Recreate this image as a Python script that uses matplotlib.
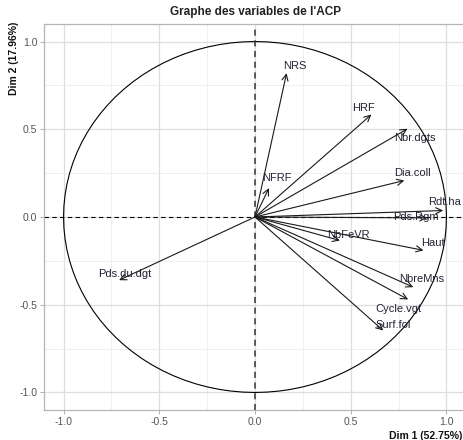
import numpy as np
import matplotlib
matplotlib.use("Agg")
import matplotlib.pyplot as plt

plt.rcParams["font.family"] = ["Liberation Sans", "DejaVu Sans"]

# ---- data ----
variables = ["NRS", "HRF", "Nbr.dgts", "Dia.coll", "NFRF", "Rdt.ha", "Pds.Rgm",
             "NbFeVR", "Haut", "NbreMns", "Cycle.vgt", "Surf.fol", "Pds.du.dgt"]
dim1 = [0.165, 0.608, 0.797, 0.780, 0.073, 0.983, 0.900,
        0.444, 0.880, 0.827, 0.800, 0.670, -0.710]
dim2 = [0.820, 0.584, 0.503, 0.208, 0.165, 0.037, -0.005,
        -0.134, -0.190, -0.400, -0.470, -0.647, -0.360]
xticks = [-1.0, -0.5, 0.0, 0.5, 1.0]
yticks = [-1.0, -0.5, 0.0, 0.5, 1.0]
title = "Graphe des variables de l'ACP"
xlab = "Dim 1 (52.75%)"
ylab = "Dim 2 (17.96%)"

# ---- layout: label offsets (data units) from arrow tips ----
label_offsets = {
    "NRS": (0.044, 0.04), "HRF": (-0.042, 0.038), "Nbr.dgts": (0.038, -0.053),
    "Dia.coll": (0.043, 0.042), "NFRF": (0.040, 0.058), "Rdt.ha": (0.007, 0.05),
    "Pds.Rgm": (-0.061, 0.005), "NbFeVR": (0.043, 0.034), "Haut": (0.051, 0.039),
    "NbreMns": (0.043, 0.044), "Cycle.vgt": (-0.052, -0.053),
    "Surf.fol": (0.052, 0.034), "Pds.du.dgt": (0.031, 0.036),
}

fig = plt.figure(figsize=(4.63, 4.40), dpi=100)
ax = fig.add_axes([44.4 / 463, 30 / 440, 421.2 / 463, 386 / 440])
ax.set_xlim(-1.1, 1.1)
ax.set_ylim(-1.1, 1.1)

# grid
ax.set_xticks(xticks)
ax.set_yticks(yticks)
ax.set_xticks([-0.75, -0.25, 0.25, 0.75], minor=True)
ax.set_yticks([-0.75, -0.25, 0.25, 0.75], minor=True)
ax.grid(which="major", color="#dedede", lw=0.9)
ax.grid(which="minor", color="#ececec", lw=0.6)
ax.set_axisbelow(True)
for s in ax.spines.values():
    s.set_color("#b5b5b5")
    s.set_linewidth(0.9)
ax.tick_params(which="major", length=3, width=0.7, color="#b0b0b0",
               labelsize=7.5, labelcolor="#555555", pad=2)
ax.tick_params(which="minor", length=0)
ax.set_xticklabels([f"{t:.1f}" for t in xticks])
ax.set_yticklabels([f"{t:.1f}" for t in yticks])

# circle
th = np.linspace(0, 2 * np.pi, 101)
ax.plot(np.cos(th), np.sin(th), color="black", lw=0.8)

# axes dashed lines
ax.axhline(0, color="black", ls=(0, (4, 3)), lw=0.8)
ax.axvline(0, color="#333333", ls=(0, (4, 3)), lw=1.1)

# arrows & labels
for name, x, y in zip(variables, dim1, dim2):
    ax.annotate("", xy=(x, y), xytext=(0, 0),
                arrowprops=dict(arrowstyle="->,head_length=0.45,head_width=0.22",
                                color="#1a1a1a", lw=0.8, shrinkA=0, shrinkB=0))
    dx, dy = label_offsets[name]
    ax.text(x + dx, y + dy, name, fontsize=8, color="#222233",
            ha="center", va="center")

fig.text(255 / 463, 1 - 12 / 440, title, ha="center", va="center",
         fontsize=8.5, fontweight="bold", color="#222222")
fig.text(0.998, 1 - 436 / 440, xlab, ha="right", va="center",
         fontsize=7.5, fontweight="bold", color="#111111")
fig.text(14 / 463, 1 - 22 / 440, ylab, ha="center", va="top", rotation=90,
         fontsize=7.5, fontweight="bold", color="#111111")

fig.savefig("out.png", dpi=100)
